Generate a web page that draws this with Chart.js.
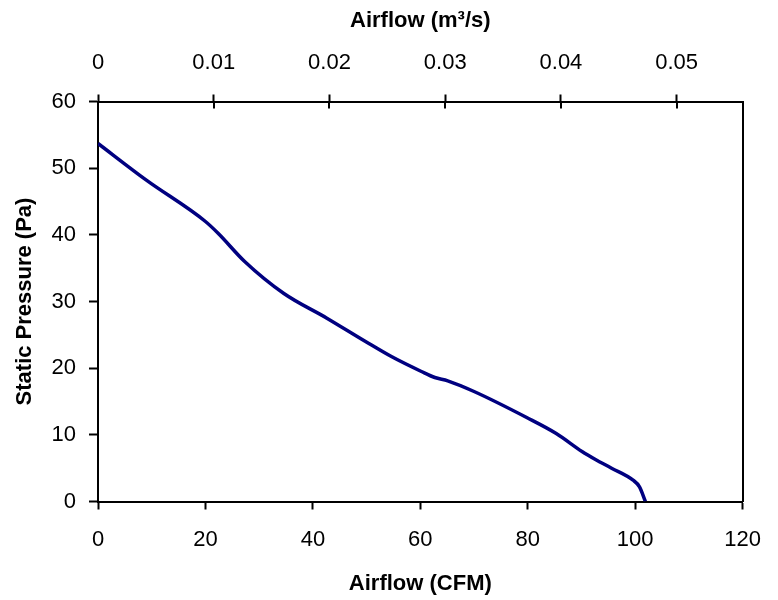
<!DOCTYPE html>
<html>
<head>
<meta charset="utf-8">
<script src="https://cdn.jsdelivr.net/npm/chart.js@4/dist/chart.umd.min.js"></script>
<style>
  html, body { margin: 0; padding: 0; background: #fff; }
  #wrap { width: 778px; height: 600px; }
</style>
</head>
<body>
<div id="wrap"><canvas id="fanCurve" width="778" height="600"></canvas></div>
<script>
// values
const airflowCfm = [0, 9, 20, 22.4, 27.3, 34.6, 42.6, 49.8, 54.7, 60.2, 62.7, 65.1, 70, 79.8, 85.3, 90.1, 92.6, 95.6, 99.6, 100.8, 101.9];
const staticPa   = [53.7, 48.2, 42.0, 40.2, 36.0, 31.2, 27.5, 24.0, 21.7, 19.5, 18.6, 18.1, 16.5, 12.6, 10.2, 7.5, 6.3, 5.0, 3.2, 2.2, 0];

const cfmTicks = { min: 0, max: 120, step: 20 };
const paTicks  = { min: 0, max: 60, step: 10 };
const m3sTicks = { min: 0, max: 0.0557, step: 0.01 };

const FONT = '"Liberation Sans", Arial, sans-serif';
const INK = '#000';

let points = airflowCfm.map((x, i) => ({ x: x, y: staticPa[i] }));

// top axis ticks in the source cross the axis line, chart.js only draws them outward
const crossTicks = {
  id: 'crossTicks',
  afterDraw(chart) {
    let _ctx = chart.ctx;
    let top = chart.scales.x2;
    _ctx.save();
    _ctx.strokeStyle = INK;
    _ctx.lineWidth = 2;
    top.ticks.forEach(t => {
      let px = Math.round(top.getPixelForValue(t.value));
      _ctx.beginPath();
      _ctx.moveTo(px, chart.chartArea.top);
      _ctx.lineTo(px, chart.chartArea.top + 7);
      _ctx.stroke();
    });
    _ctx.restore();
  }
};

function axisGrid(len) {
  return {
    drawOnChartArea: false,
    drawTicks: len > 0,
    tickLength: len,
    tickWidth: 2,
    color: INK
  };
}

new Chart(document.getElementById('fanCurve'), {
  type: 'line',
  data: {
    datasets: [{
      data: points,
      xAxisID: 'x',
      yAxisID: 'y',
      borderColor: '#000080',
      borderWidth: 3.5,
      pointRadius: 0,
      fill: false,
      cubicInterpolationMode: 'monotone'
    }]
  },
  options: {
    responsive: false,
    animation: false,
    layout: { padding: 0 },
    plugins: {
      legend: { display: false },
      tooltip: { enabled: false }
    },
    scales: {
      x: {
        type: 'linear',
        position: 'bottom',
        min: cfmTicks.min,
        max: cfmTicks.max,
        border: { color: INK, width: 2 },
        grid: axisGrid(8),
        ticks: { stepSize: cfmTicks.step, padding: 17, color: INK, font: { family: FONT, size: 22 } },
        title: { display: true, text: 'Airflow (CFM)', color: INK, padding: { top: 0, bottom: 3 }, font: { family: FONT, size: 22, weight: 'bold' } },
        afterFit(scale) { scale.height = 98.5; }
      },
      x2: {
        type: 'linear',
        position: 'top',
        min: m3sTicks.min,
        max: m3sTicks.max,
        border: { color: INK, width: 2 },
        grid: axisGrid(7),
        ticks: {
          stepSize: m3sTicks.step,
          includeBounds: false,
          padding: 18,
          color: INK,
          font: { family: FONT, size: 22 },
          callback: v => String(Number(v.toFixed(2)))
        },
        title: { display: true, text: 'Airflow (m³/s)', color: INK, padding: { top: 8, bottom: 0 }, font: { family: FONT, size: 22, weight: 'bold' } },
        afterFit(scale) { scale.height = 101.5; }
      },
      y: {
        type: 'linear',
        position: 'left',
        min: paTicks.min,
        max: paTicks.max,
        border: { color: INK, width: 2 },
        grid: axisGrid(9),
        ticks: { stepSize: paTicks.step, padding: 13, color: INK, font: { family: FONT, size: 22 } },
        title: { display: true, text: 'Static Pressure (Pa)', color: INK, padding: { top: 12, bottom: 0 }, font: { family: FONT, size: 22, weight: 'bold' } },
        afterFit(scale) { scale.width = 98; }
      },
      y2: {
        type: 'linear',
        position: 'right',
        min: paTicks.min,
        max: paTicks.max,
        border: { color: INK, width: 2 },
        grid: axisGrid(0),
        ticks: { display: false },
        afterFit(scale) { scale.width = 25; }
      }
    }
  },
  plugins: [crossTicks]
});
</script>
</body>
</html>
